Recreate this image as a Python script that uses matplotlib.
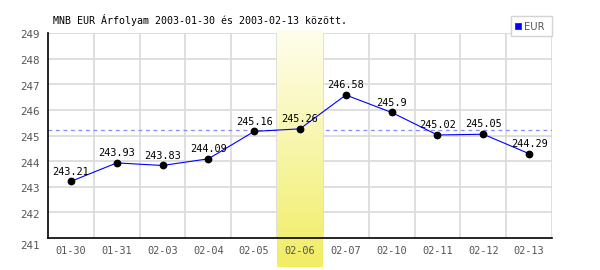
import numpy as np
import matplotlib
matplotlib.use('Agg')
import matplotlib.pyplot as plt
from matplotlib.patches import Rectangle
from matplotlib.lines import Line2D
from matplotlib.transforms import ScaledTranslation

# Data
dates = ['01-30', '01-31', '02-03', '02-04', '02-05', '02-06',
         '02-07', '02-10', '02-11', '02-12', '02-13']
rates = [243.21, 243.93, 243.83, 244.09, 245.16, 245.26,
         246.58, 245.9, 245.02, 245.05, 244.29]
rate_labels = ['243.21', '243.93', '243.83', '244.09', '245.16', '245.26',
               '246.58', '245.9', '245.02', '245.05', '244.29']
ref_level = 245.22
highlight_idx = 5
y_ticks = [241, 242, 243, 244, 245, 246, 247, 248, 249]
title = 'MNB EUR Árfolyam 2003-01-30 és 2003-02-13 között.'
series_name = 'EUR'

W, H = 600, 270
MONO = 'DejaVu Sans Mono'
GRID = '#d9d9d9'
TICK = '#555555'


def fx(px):
    return px / W


def fy(py):
    return 1 - py / H


fig = plt.figure(figsize=(6, 2.7), dpi=100)
fig.patch.set_facecolor('white')
ax = fig.add_axes([fx(48), fy(238), fx(552) - fx(48), fy(33) - fy(238)])

n = len(dates)
x = np.arange(n)
ax.set_xlim(-0.5, n - 0.5)
ax.set_ylim(y_ticks[0], y_ticks[-1])

# grid: horizontal at each unit, vertical at slot boundaries
for yv in y_ticks[1:]:
    ax.axhline(yv, color=GRID, lw=1.2, zorder=0.5)
for k in range(1, n + 1):
    ax.axvline(k - 0.5, color=GRID, lw=1.2, zorder=0.5)

ax.axhline(ref_level, color='#8888ff', lw=0.9, ls=(0, (3, 3)), zorder=0.8)

# highlighted day, vertical gradient white -> yellow, spills outside axes
top_c = np.array([254, 254, 238]) / 255
bot_c = np.array([241, 237, 100]) / 255
t = np.linspace(0, 1, 256)[:, None]
grad = (top_c * (1 - t) + bot_c * t)[:, None, :]
px_per_unit = (238 - 33) / (y_ticks[-1] - y_ticks[0])
ax.imshow(grad, aspect='auto', interpolation='bilinear',
          extent=[highlight_idx - 0.5, highlight_idx + 0.5,
                  y_ticks[0] - 29 / px_per_unit, y_ticks[-1] + 3 / px_per_unit],
          zorder=1, clip_on=False)

ax.plot(x, rates, color='#0000ff', lw=0.8, zorder=2)
ax.plot(x, rates, 'o', color='black', ms=4.6, zorder=3)
for xi, yi, lab in zip(x, rates, rate_labels):
    ax.annotate(lab, (xi, yi), xytext=(0, 3.5), textcoords='offset points',
                ha='center', va='bottom', fontsize=7.4, family=MONO,
                color='black', zorder=4)

for s in ['top', 'right']:
    ax.spines[s].set_visible(False)
for s in ['left', 'bottom']:
    ax.spines[s].set_color('black')
    ax.spines[s].set_linewidth(1.2)
    ax.spines[s].set_zorder(2.5)

ax.set_xticks(x)
ax.set_xticklabels(dates, family=MONO, fontsize=7.4, color=TICK)
ax.set_yticks(y_ticks)
ax.set_yticklabels([str(v) for v in y_ticks], family=MONO, fontsize=7.8, color=TICK)
ax.tick_params(axis='both', length=0)
ax.tick_params(axis='x', pad=6)
ax.tick_params(axis='y', pad=6)

# y labels sit a touch low in the reference, the bottom one noticeably
ylabs = ax.get_yticklabels()
for i, lab in enumerate(ylabs):
    drop = 7 if i == 0 else 1.5
    lab.set_transform(lab.get_transform() + ScaledTranslation(0, -drop / 100, fig.dpi_scale_trans))

fig.text(fx(53), fy(20), title, family=MONO, fontsize=7.2, color='black',
         ha='left', va='center')

# legend box
fig.patches.append(Rectangle((fx(511), fy(36)), fx(552) - fx(511), fy(16) - fy(36),
                             transform=fig.transFigure, facecolor='white',
                             edgecolor='#d4d4d4', lw=1, zorder=5))
fig.lines.append(Line2D([fx(518)], [fy(26)], marker='s', ms=4.5,
                        markerfacecolor='#0000ff', markeredgecolor='#333333',
                        markeredgewidth=0.6, transform=fig.transFigure, zorder=6))
fig.text(fx(524), fy(26.5), series_name, family='DejaVu Sans', fontsize=7.2, color=TICK,
         ha='left', va='center', zorder=6)

fig.savefig('out.png', dpi=100, facecolor='white')
